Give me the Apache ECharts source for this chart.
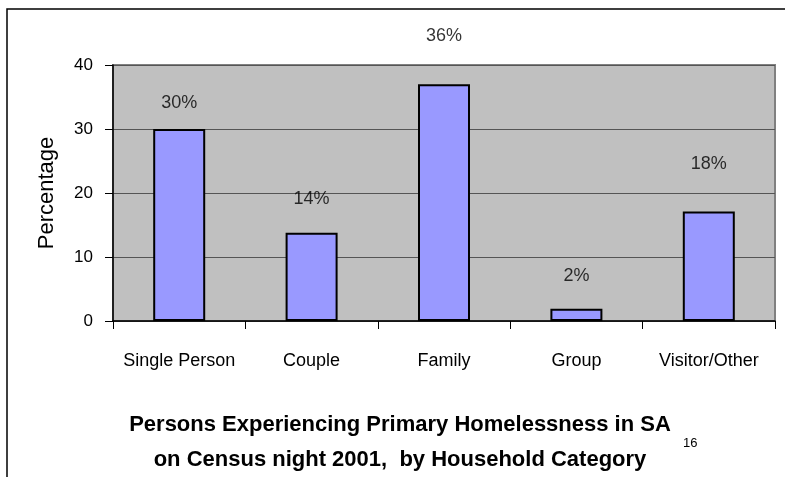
<!DOCTYPE html>
<html lang="en">
<head>
<meta charset="UTF-8">
<title>Primary Homelessness in SA 2001</title>
<script src="https://cdn.jsdelivr.net/npm/echarts@6/dist/echarts.min.js"></script>
<style>
  html,body{margin:0;height:100%;background:#fff;}
  #chart{width:785px;height:477px;}
</style>
</head>
<body>
<div id="chart"></div>
<script>
const categories = ['Single Person','Couple','Family','Group','Visitor/Other'];
const values     = [30, 13.8, 37, 1.9, 17.1];
const labelText  = ['30%','14%','36%','2%','18%'];
const labelLevel = [34.0, 19.0, 44.6, 7.1, 24.6];
const yTicks     = [0, 10, 20, 30, 40];
const titleText  = 'Persons Experiencing Primary Homelessness in SA\non Census night 2001,  by Household Category';

const font = '"Liberation Sans",Arial,sans-serif';
const myChart = echarts.init(document.getElementById('chart'));

myChart.setOption({
  animation:false,
  graphic:[
    {type:'rect',shape:{x:7,y:9,width:900,height:600},style:{fill:'none',stroke:'#000',lineWidth:1.5},silent:true},
    {type:'text',x:400,y:407,style:{text:titleText,font:'bold 22px '+font,lineHeight:35,
      fill:'#000',align:'center',verticalAlign:'top'}},
    {type:'text',left:683,top:437,style:{text:'16',font:'13px '+font,fill:'#000'}}
  ],
  grid:{left:113,top:65,right:10,bottom:156,show:true,backgroundColor:'#C0C0C0',borderColor:'#808080',borderWidth:2},
  xAxis:{
    type:'category', data:categories,
    axisLine:{lineStyle:{color:'#000',width:1.5}},
    axisTick:{show:true,interval:0,length:8,lineStyle:{color:'#000'}},
    axisLabel:{margin:31,color:'#000',fontFamily:font,fontSize:18,interval:0}
  },
  yAxis:{
    type:'value', min:yTicks[0], max:yTicks[yTicks.length-1], interval:10,
    name:'Percentage', nameLocation:'middle', nameGap:55,
    nameTextStyle:{fontFamily:font,fontSize:22,color:'#000'},
    axisLine:{show:true,lineStyle:{color:'#000',width:1.5}},
    axisTick:{show:true,length:8,lineStyle:{color:'#000'}},
    axisLabel:{margin:20,color:'#000',fontFamily:font,fontSize:17},
    splitLine:{lineStyle:{color:'#555',width:1}}
  },
  series:[
    {type:'bar',data:values,barWidth:52,
     itemStyle:{color:'#9999FF',borderColor:'#000',borderWidth:2}},
    {type:'scatter',data:labelLevel,symbolSize:1,clip:false,
     itemStyle:{color:'transparent'},
     label:{show:true,position:'inside',color:'#000',fontFamily:font,fontSize:18,
            formatter:p=>labelText[p.dataIndex]}}
  ]
});
</script>
</body>
</html>
